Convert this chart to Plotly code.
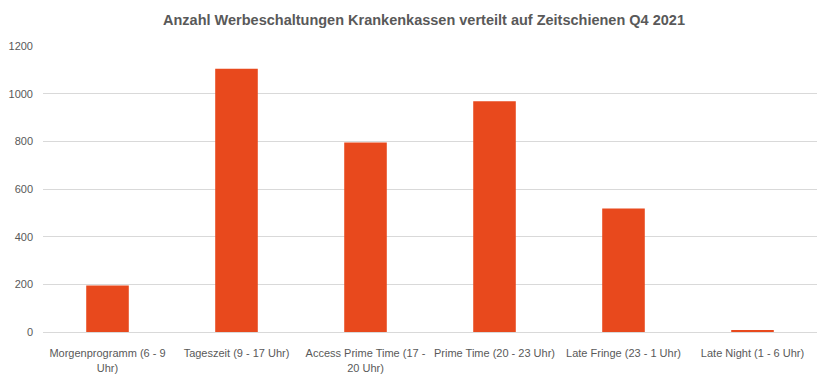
import plotly.graph_objects as go

categories = [
    "Morgenprogramm (6 - 9<br>Uhr)",
    "Tageszeit (9 - 17 Uhr)",
    "Access Prime Time (17 -<br>20 Uhr)",
    "Prime Time (20 - 23 Uhr)",
    "Late Fringe (23 - 1 Uhr)",
    "Late Night (1 - 6 Uhr)",
]
values = [195, 1105, 795, 968, 518, 5]
tick_vals = [0, 200, 400, 600, 800, 1000, 1200]

fig = go.Figure(go.Bar(x=categories, y=values, marker=dict(color="#E8491D", line=dict(width=0))))

fig.update_layout(
    width=832, height=384,
    margin=dict(l=35, r=23, t=38, b=60, autoexpand=False),
    paper_bgcolor="white", plot_bgcolor="white",
    bargap=0.67,
    showlegend=False,
    title=dict(
        text="<b>Anzahl Werbeschaltungen Krankenkassen verteilt auf Zeitschienen Q4 2021</b>",
        x=0.5, xanchor="center", y=0.969, yref="container", yanchor="middle",
        font=dict(family="Liberation Sans", size=14.5, color="#595959"),
    ),
    font=dict(family="Liberation Sans", size=11, color="#595959"),
)
fig.update_xaxes(showgrid=False, showline=True, linecolor="#D9D9D9", linewidth=1,
                 ticks="", tickfont=dict(size=11, color="#595959"), tickangle=0,
                 automargin=False, ticklabelstandoff=11)
fig.update_yaxes(range=[0, 1200], tickvals=tick_vals, showgrid=True, gridcolor="#D9D9D9",
                 gridwidth=1, zeroline=False, showline=False, ticks="",
                 tickfont=dict(size=11, color="#595959"), ticklabelstandoff=9,
                 automargin=False)

fig.write_html("out.html")
